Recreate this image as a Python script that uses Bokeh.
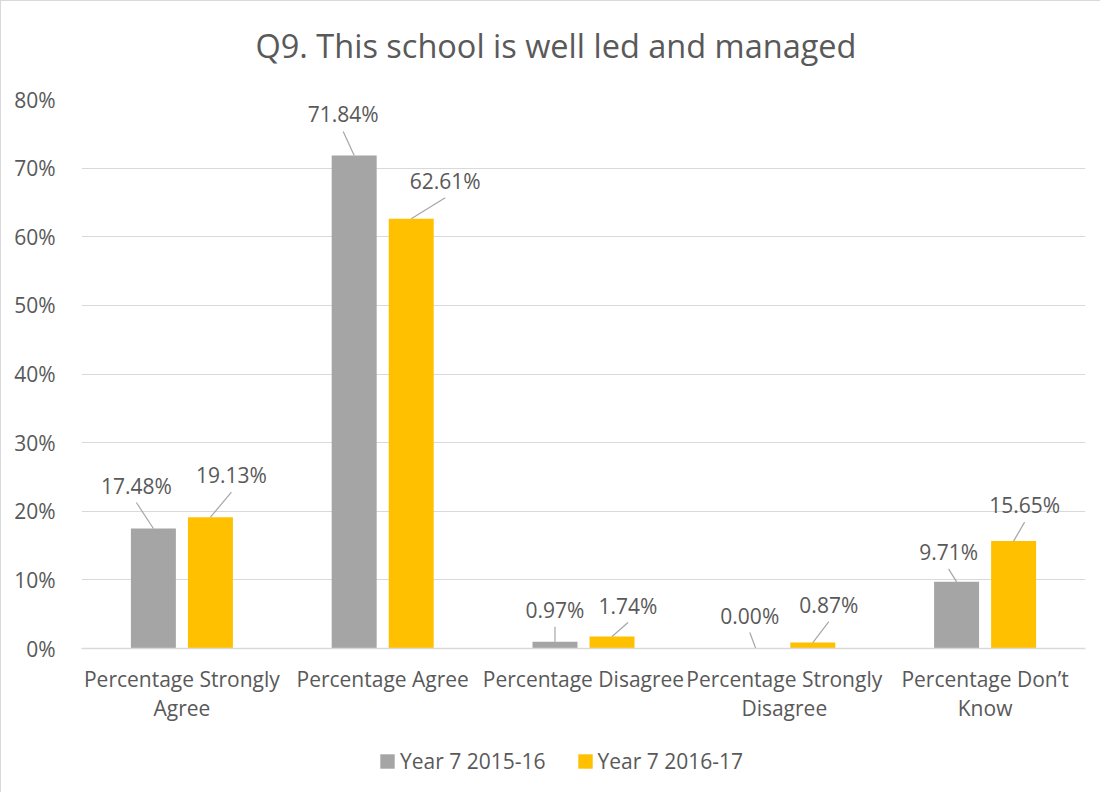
from bokeh.plotting import figure
from bokeh.layouts import column
from bokeh.models import (ColumnDataSource, Legend, LegendItem, FixedTicker,
                          PrintfTickFormatter)
from bokeh.core.properties import value
from bokeh.embed import file_html
from bokeh.resources import INLINE

# ---- data ----
title_text = "Q9. This school is well led and managed"
categories = ["Percentage Strongly Agree", "Percentage Agree", "Percentage Disagree",
              "Percentage Strongly Disagree", "Percentage Don\u2019t Know"]
axis_labels = ["Percentage Strongly\nAgree", "Percentage Agree", "Percentage Disagree",
               "Percentage Strongly\nDisagree", "Percentage Don\u2019t\nKnow"]
series_names = ["Year 7 2015-16", "Year 7 2016-17"]
year_2015 = [17.48, 71.84, 0.97, 0.00, 9.71]
year_2016 = [19.13, 62.61, 1.74, 0.87, 15.65]
y_ticks = [0, 10, 20, 30, 40, 50, 60, 70, 80]

# ---- styles / layout ----
FONT = "Open Sans"
TXT = "#595959"
GRID = "#D9D9D9"
COLORS = ["#A5A5A5", "#FFC000"]
W = 1100
TITLE_H, H, LEG_H = 70, 660, 62
BL, BR, BT, BB = 80, 16, 29, 82
FRAME_W = W - BL - BR
FRAME_H = H - BT - BB
X_START, X_END = -0.5, len(categories) - 0.5
Y_START, Y_END = 0, 80
PX_X = FRAME_W / (X_END - X_START)   # pixels per category unit
PX_Y = FRAME_H / (Y_END - Y_START)   # pixels per percent
DODGE = 0.142
BAR_W = 0.224
# label offsets (pixels) from top of each bar: (dx, dy), dy negative = up
lab_off_2015 = [(-17, -43), (-11, -41), (0, -32), (-6, -33), (-8, -30)]
lab_off_2016 = [(21, -42), (34, -38), (16, -31), (16, -38), (11, -36)]
LEADER_GAP = 17
FS = "21px"
TITLE_CX_PX = 474.5    # title centre, px from the plot frame's left edge
TITLE_CY_PX = 44       # title centre, px from top of the strip


def strip(height):
    f = figure(width=W, height=height, x_range=(X_START, X_END), y_range=(0, height),
               output_backend="svg", toolbar_location=None,
               min_border_left=0, min_border_right=0, min_border_top=0, min_border_bottom=0)
    f.axis.visible = False
    f.grid.visible = False
    f.outline_line_color = None
    f.border_fill_color = "white"
    return f


# ---- title strip ----
tf = strip(TITLE_H)
tf.styles = {"border-top": "1px solid #D9D9D9", "border-left": "1px solid #D9D9D9"}
tf.text(x=[X_START + TITLE_CX_PX / PX_X], y=[TITLE_H - TITLE_CY_PX], text=[title_text],
        text_align="center", text_baseline="middle",
        text_font=value(FONT), text_font_size="32.5px", text_color=TXT)

# ---- main chart ----
p = figure(width=W, height=H, x_range=(X_START, X_END), y_range=(Y_START, Y_END),
           output_backend="svg", toolbar_location=None,
           min_border_left=BL, min_border_right=BR, min_border_top=BT, min_border_bottom=BB)
p.outline_line_color = None
p.background_fill_color = "white"
p.border_fill_color = "white"
p.styles = {"border-left": "1px solid #D9D9D9"}

for i, (vals, offs) in enumerate([(year_2015, lab_off_2015), (year_2016, lab_off_2016)]):
    sign = -1 if i == 0 else 1
    xs = [k + sign * DODGE for k in range(len(categories))]
    src = ColumnDataSource(dict(
        x=xs, top=vals,
        label=[f"{v:.2f}%" for v in vals],
        dx=[o[0] for o in offs], dy=[o[1] for o in offs],
        x1=[x + o[0] / PX_X for x, o in zip(xs, offs)],
        y1=[v - (o[1] + LEADER_GAP) / PX_Y for v, o in zip(vals, offs)],
    ))
    p.vbar(x="x", top="top", width=BAR_W, bottom=0, source=src,
           fill_color=COLORS[i], line_color=None)
    p.segment(x0="x", y0="top", x1="x1", y1="y1", source=src,
              line_color="#A6A6A6", line_width=1.2)
    p.text(x="x", y="top", text="label", x_offset="dx", y_offset="dy", source=src,
           text_align="center", text_baseline="middle",
           text_font=value(FONT), text_font_size=FS, text_color=TXT)

p.xgrid.grid_line_color = None
p.ygrid.grid_line_color = GRID
p.ygrid.grid_line_width = 1

p.yaxis.ticker = FixedTicker(ticks=y_ticks)
p.yaxis.formatter = PrintfTickFormatter(format="%d%%")
p.yaxis.axis_line_color = None
p.yaxis.major_tick_line_color = None
p.yaxis.minor_tick_line_color = None
p.yaxis.major_label_standoff = 20
p.yaxis.major_label_text_font = FONT
p.yaxis.major_label_text_font_size = FS
p.yaxis.major_label_text_color = TXT

p.xaxis.ticker = FixedTicker(ticks=list(range(len(categories))))
p.xaxis.major_label_overrides = {k: lbl for k, lbl in enumerate(axis_labels)}
p.xaxis.axis_line_color = GRID
p.xaxis.axis_line_width = 1.5
p.xaxis.major_tick_line_color = None
p.xaxis.minor_tick_line_color = None
p.xaxis.major_label_standoff = 10
p.xaxis.major_label_text_font = FONT
p.xaxis.major_label_text_font_size = FS
p.xaxis.major_label_text_color = TXT
p.xaxis.major_label_text_line_height = 1.07

# ---- legend strip ----
lf = strip(LEG_H)
lf.styles = {"border-left": "1px solid #D9D9D9"}
# proxy renderers (zero-height, only used for legend swatches)
lrs = [lf.vbar(x=[0], top=[0], bottom=[0], width=0.01, fill_color=c, line_color=None)
       for c in COLORS]
legend = Legend(items=[LegendItem(label=series_names[k], renderers=[lrs[k]]) for k in range(2)],
                orientation="horizontal", location=(297, 17),
                glyph_width=18, glyph_height=18, label_standoff=4, spacing=30,
                padding=0, margin=0, border_line_color=None, background_fill_alpha=0,
                label_text_font=FONT, label_text_font_size=FS, label_text_color=TXT)
lf.add_layout(legend)

layout = column(tf, p, lf, spacing=0)
open("out.html", "w").write(file_html(layout, INLINE))
